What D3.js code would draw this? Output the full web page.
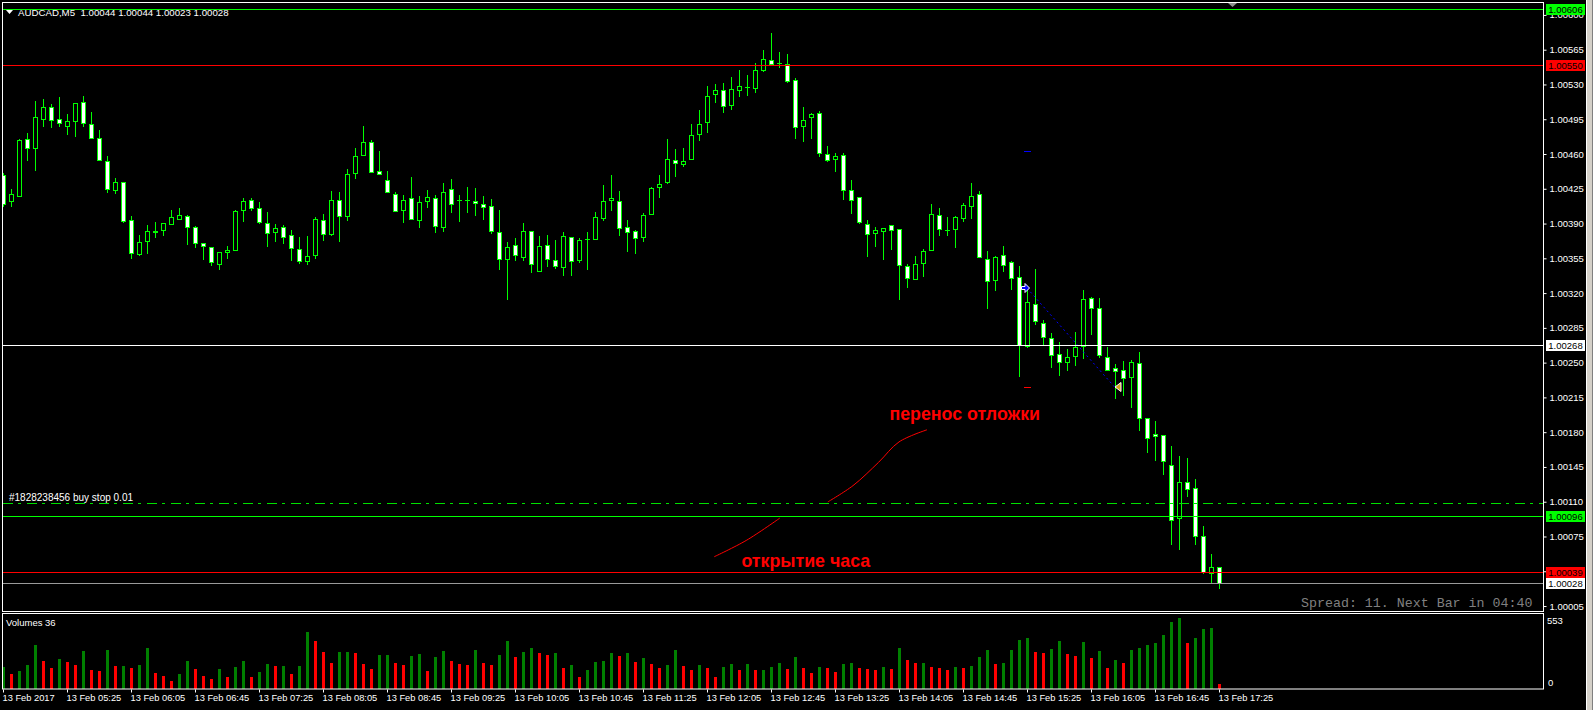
<!DOCTYPE html>
<html>
<head>
<meta charset="utf-8">
<script src="https://cdn.jsdelivr.net/npm/d3@7"></script>
<style>
  body { margin: 0; background: #000; overflow: hidden; }
  svg { display: block; }
  text { font-family: "Liberation Sans", Arial, sans-serif; }
</style>
</head>
<body>
<script>
// AUDCAD M5, 13 Feb 2017 04:45 .. 17:25 (153 bars)
const openP = [1.00439,1.00413,1.00418,1.00475,1.00466,1.00495,1.00507,1.00495,1.00488,1.00493,
  1.00512,1.00490,1.00476,1.00453,1.00424,1.00432,1.00394,1.00359,1.00372,1.00381,
  1.00384,1.00390,1.00395,1.00398,1.00387,1.00370,1.00366,1.00349,1.00361,1.00363,
  1.00404,1.00414,1.00406,1.00391,1.00381,1.00387,1.00378,1.00364,1.00352,1.00358,
  1.00394,1.00379,1.00414,1.00398,1.00441,1.00459,1.00472,1.00443,1.00434,1.00420,
  1.00404,1.00416,1.00394,1.00413,1.00416,1.00387,1.00425,1.00414,1.00414,1.00413,
  1.00410,1.00408,1.00381,1.00354,1.00368,1.00356,1.00382,1.00342,1.00368,1.00353,
  1.00346,1.00376,1.00353,1.00374,1.00374,1.00396,1.00414,1.00413,1.00387,1.00382,
  1.00376,1.00400,1.00427,1.00432,1.00454,1.00450,1.00455,1.00480,1.00492,1.00520,
  1.00524,1.00509,1.00524,1.00527,1.00526,1.00545,1.00555,1.00552,1.00551,1.00534,
  1.00488,1.00497,1.00501,1.00460,1.00455,1.00459,1.00424,1.00417,1.00390,1.00380,
  1.00383,1.00389,1.00385,1.00347,1.00334,1.00350,1.00363,1.00399,1.00384,1.00385,
  1.00396,1.00408,1.00420,1.00354,1.00333,1.00358,1.00351,1.00336,1.00267,1.00309,
  1.00290,1.00275,1.00259,1.00251,1.00257,1.00267,1.00315,1.00305,1.00256,1.00245,
  1.00243,1.00236,1.00250,1.00194,1.00178,1.00177,1.00147,1.00094,1.00130,1.00124,
  1.00075,1.00038,1.00044];

const highP = [1.00441,1.00425,1.00475,1.00481,1.00513,1.00515,1.00510,1.00517,1.00500,1.00511,
  1.00518,1.00502,1.00484,1.00458,1.00436,1.00432,1.00398,1.00378,1.00389,1.00392,
  1.00391,1.00404,1.00406,1.00399,1.00388,1.00370,1.00366,1.00361,1.00367,1.00404,
  1.00416,1.00416,1.00412,1.00402,1.00390,1.00389,1.00384,1.00376,1.00377,1.00397,
  1.00400,1.00423,1.00422,1.00445,1.00466,1.00488,1.00474,1.00463,1.00443,1.00422,
  1.00419,1.00437,1.00418,1.00424,1.00419,1.00431,1.00435,1.00419,1.00427,1.00426,
  1.00418,1.00415,1.00404,1.00371,1.00375,1.00391,1.00383,1.00377,1.00378,1.00373,
  1.00381,1.00376,1.00375,1.00381,1.00402,1.00429,1.00439,1.00423,1.00394,1.00384,
  1.00401,1.00427,1.00439,1.00475,1.00465,1.00466,1.00490,1.00504,1.00528,1.00530,
  1.00531,1.00538,1.00545,1.00540,1.00552,1.00565,1.00582,1.00563,1.00561,1.00537,
  1.00507,1.00501,1.00503,1.00468,1.00461,1.00461,1.00434,1.00417,1.00394,1.00387,
  1.00386,1.00389,1.00385,1.00349,1.00357,1.00364,1.00410,1.00406,1.00397,1.00398,
  1.00411,1.00431,1.00423,1.00362,1.00357,1.00367,1.00352,1.00347,1.00324,1.00344,
  1.00293,1.00280,1.00271,1.00264,1.00281,1.00323,1.00316,1.00315,1.00266,1.00249,
  1.00252,1.00253,1.00261,1.00194,1.00191,1.00177,1.00166,1.00156,1.00154,1.00133,
  1.00086,1.00057,1.00044];

const lowP = [1.00408,1.00408,1.00418,1.00454,1.00444,1.00488,1.00487,1.00488,1.00480,1.00478,
  1.00488,1.00476,1.00454,1.00422,1.00421,1.00392,1.00355,1.00358,1.00360,1.00376,
  1.00378,1.00390,1.00395,1.00369,1.00366,1.00354,1.00348,1.00344,1.00355,1.00363,
  1.00393,1.00404,1.00391,1.00367,1.00372,1.00370,1.00353,1.00350,1.00349,1.00355,
  1.00373,1.00378,1.00372,1.00394,1.00436,1.00459,1.00442,1.00440,1.00422,1.00403,
  1.00392,1.00395,1.00387,1.00407,1.00381,1.00383,1.00402,1.00393,1.00402,1.00399,
  1.00395,1.00380,1.00344,1.00314,1.00353,1.00353,1.00341,1.00342,1.00347,1.00345,
  1.00338,1.00338,1.00351,1.00344,1.00374,1.00394,1.00404,1.00378,1.00362,1.00360,
  1.00372,1.00400,1.00417,1.00431,1.00438,1.00448,1.00455,1.00474,1.00482,1.00512,
  1.00502,1.00505,1.00518,1.00519,1.00522,1.00544,1.00551,1.00548,1.00532,1.00476,
  1.00473,1.00476,1.00458,1.00453,1.00443,1.00415,1.00401,1.00391,1.00357,1.00367,
  1.00354,1.00364,1.00314,1.00326,1.00334,1.00337,1.00363,1.00378,1.00378,1.00366,
  1.00393,1.00396,1.00356,1.00305,1.00323,1.00342,1.00324,1.00237,1.00266,1.00289,
  1.00269,1.00246,1.00238,1.00243,1.00248,1.00255,1.00279,1.00256,1.00243,1.00214,
  1.00217,1.00205,1.00182,1.00160,1.00152,1.00138,1.00067,1.00062,1.00116,1.00067,
  1.00038,1.00028,1.00023];

const closeP = [1.00410,1.00420,1.00474,1.00466,1.00497,1.00507,1.00494,1.00491,1.00493,1.00511,
  1.00491,1.00476,1.00454,1.00425,1.00432,1.00393,1.00360,1.00371,1.00382,1.00383,
  1.00391,1.00397,1.00399,1.00387,1.00370,1.00367,1.00351,1.00361,1.00363,1.00403,
  1.00413,1.00406,1.00392,1.00380,1.00386,1.00376,1.00365,1.00352,1.00357,1.00395,
  1.00379,1.00414,1.00398,1.00440,1.00458,1.00472,1.00442,1.00440,1.00422,1.00403,
  1.00414,1.00395,1.00412,1.00417,1.00388,1.00422,1.00410,1.00414,1.00414,1.00411,
  1.00407,1.00383,1.00354,1.00366,1.00358,1.00383,1.00349,1.00367,1.00354,1.00347,
  1.00377,1.00352,1.00373,1.00374,1.00397,1.00413,1.00416,1.00386,1.00381,1.00375,
  1.00399,1.00426,1.00430,1.00455,1.00451,1.00453,1.00479,1.00490,1.00518,1.00524,
  1.00508,1.00525,1.00528,1.00527,1.00545,1.00556,1.00551,1.00552,1.00533,1.00487,
  1.00494,1.00500,1.00461,1.00454,1.00458,1.00424,1.00414,1.00392,1.00379,1.00384,
  1.00386,1.00384,1.00348,1.00335,1.00349,1.00362,1.00400,1.00385,1.00384,1.00397,
  1.00409,1.00418,1.00356,1.00332,1.00356,1.00348,1.00335,1.00268,1.00311,1.00292,
  1.00276,1.00258,1.00251,1.00256,1.00266,1.00314,1.00305,1.00258,1.00243,1.00242,
  1.00235,1.00251,1.00194,1.00174,1.00176,1.00151,1.00092,1.00130,1.00123,1.00075,
  1.00039,1.00044,1.00028];

const volumes = [169,113,137,184,342,216,161,232,208,184,
  295,145,137,303,176,179,161,184,319,121,
  105,66,113,216,153,105,74,153,90,169,
  216,97,129,192,176,179,113,176,445,374,
  287,200,287,290,279,192,153,263,266,200,
  184,255,271,137,248,295,216,192,184,303,
  200,184,263,374,248,287,319,279,263,279,
  161,184,90,145,208,216,279,255,279,208,
  240,192,161,184,303,176,145,184,161,97,
  169,192,145,192,145,148,169,200,153,248,
  161,121,169,161,129,192,200,161,158,145,
  169,153,319,224,200,203,169,166,145,169,
  161,176,248,303,192,200,303,382,398,287,
  284,311,374,271,255,366,240,295,161,224,
  200,303,319,342,358,421,524,553,358,398,
  469,477,36];

const timeLabels = ["13 Feb 2017","13 Feb 05:25","13 Feb 06:05","13 Feb 06:45","13 Feb 07:25",
  "13 Feb 08:05","13 Feb 08:45","13 Feb 09:25","13 Feb 10:05","13 Feb 10:45","13 Feb 11:25",
  "13 Feb 12:05","13 Feb 12:45","13 Feb 13:25","13 Feb 14:05","13 Feb 14:45","13 Feb 15:25",
  "13 Feb 16:05","13 Feb 16:45","13 Feb 17:25"];
const barsPerLabel = 8;

const priceTicks = [1.00005,1.00040,1.00075,1.00110,1.00145,1.00180,1.00215,1.00250,1.00285,
  1.00320,1.00355,1.00390,1.00425,1.00460,1.00495,1.00530,1.00565,1.00600];

// horizontal lines with their price-scale boxes
const lineLevels = [1.00606, 1.00550, 1.00268, 1.00096, 1.00039, 1.00028];
const lineColors = ["#00ff00", "#ff0000", "#ffffff", "#00ff00", "#ff0000", "#9a9a9a"];
const boxColors  = ["#00ff00", "#ff0000", "#ffffff", "#00ff00", "#ff0000", "#ffffff"];
const pendingLevel = 1.00109;

// closed trade: open arrow, close arrow, TP and SL marks
const trade = { openBar: 128, openPrice: 1.00325, closeBar: 139, closePrice: 1.00225, tp: 1.00463, sl: 1.00225 };

// hand drawn red line, in (bar, price)
const drawA = [[88.9, 1.000546], [92.9, 1.00071], [97.1, 1.000935]];
const drawB = [[103.1, 1.001098], [106.25, 1.001262], [109.45, 1.001497], [112, 1.001702], [115.5, 1.001824]];
const noteHour = { bar: 92.3, price: 1.00051, text: "открытие часа" };
const noteMove = { bar: 110.8, price: 1.00199, text: "перенос отложки" };

const W = 1593, H = 710;
const left = 3, right = 1543, mainTop = 3, mainBottom = 611, volTop = 614, volBottom = 689;
const sans = "'Liberation Sans', Arial, sans-serif";

const svg = d3.select("body").append("svg")
    .attr("width", W)
    .attr("height", H)
    .style("background", "#000");

const x = d3.scaleLinear().domain([0, openP.length - 1]).range([3, 3 + 8 * (openP.length - 1)]);
const y = d3.scaleLinear().domain([1.00000, 1.00612]).range([mainBottom, mainTop]);
const yv = d3.scaleLinear().domain([0, d3.max(volumes)]).range([volBottom, 618]);
const px = (i) => Math.round(x(i));
const py = (p) => Math.round(y(p));

const defs = svg.append("defs");
defs.append("clipPath").attr("id", "clipMain").append("rect")
    .attr("x", left).attr("y", mainTop).attr("width", right - left).attr("height", mainBottom - mainTop);
defs.append("clipPath").attr("id", "clipVol").append("rect")
    .attr("x", left).attr("y", volTop).attr("width", right - left).attr("height", volBottom - volTop);

// scrollbar on the far right
svg.append("rect").attr("x", 1586).attr("y", 0).attr("width", 7).attr("height", H).attr("fill", "#d4d0c8");
svg.append("line").attr("x1", 1586.5).attr("x2", 1586.5).attr("y1", 0).attr("y2", H).attr("stroke", "#ffffff");
svg.append("line").attr("x1", 1592.5).attr("x2", 1592.5).attr("y1", 0).attr("y2", H).attr("stroke", "#808080");

const main = svg.append("g").attr("clip-path", "url(#clipMain)");

// candles
const bars = d3.range(openP.length);
const candle = main.selectAll("g.candle")
    .data(bars)
    .enter()
    .append("g")
    .attr("class", "candle");

candle.append("line")
    .attr("x1", (i) => px(i) + 0.5)
    .attr("x2", (i) => px(i) + 0.5)
    .attr("y1", (i) => py(highP[i]))
    .attr("y2", (i) => py(lowP[i]) + 1)
    .attr("stroke", "#00ff00");

candle.each(function (i) {
    const g = d3.select(this);
    const top = py(Math.max(openP[i], closeP[i]));
    const bottom = py(Math.min(openP[i], closeP[i]));
    if (bottom - top < 1) {
        g.append("line")
            .attr("x1", px(i) - 2).attr("x2", px(i) + 3)
            .attr("y1", top + 0.5).attr("y2", top + 0.5)
            .attr("stroke", "#00ff00");
    } else {
        g.append("rect")
            .attr("x", px(i) - 1.5)
            .attr("y", top + 0.5)
            .attr("width", 4)
            .attr("height", bottom - top)
            .attr("fill", closeP[i] > openP[i] ? "#000000" : "#ffffff")
            .attr("stroke", "#00ff00");
    }
});

// hand drawn red line and notes
const line = d3.line().x((d) => x(d[0])).y((d) => y(d[1])).curve(d3.curveCatmullRom);
[drawA, drawB].forEach((pts) => {
    main.append("path").attr("d", line(pts)).attr("fill", "none").attr("stroke", "#ff0000").attr("stroke-width", 1);
});
[noteHour, noteMove].forEach((n) => {
    main.append("text")
        .attr("x", x(n.bar))
        .attr("y", y(n.price))
        .attr("dy", "0.35em")
        .attr("fill", "#ff0000")
        .attr("font-size", 17.8)
        .attr("font-weight", "bold")
        .text(n.text);
});

// trade marks
main.append("line")
    .attr("x1", x(trade.openBar)).attr("y1", y(trade.openPrice))
    .attr("x2", x(trade.closeBar)).attr("y2", y(trade.closePrice))
    .attr("stroke", "#0000ff").attr("stroke-dasharray", "2,3");
[[trade.tp, "#0000ff"], [trade.sl, "#ff0000"]].forEach(([p, c]) => {
    main.append("line")
        .attr("x1", px(trade.openBar) - 3).attr("x2", px(trade.openBar) + 4)
        .attr("y1", py(p) + 0.5).attr("y2", py(p) + 0.5)
        .attr("stroke", c);
});
main.append("path")
    .attr("transform", `translate(${px(trade.openBar) - 2},${py(trade.openPrice)})`)
    .attr("d", "M-3.5,-1.5 L0,-1.5 L0,-4.5 L4.5,0 L0,4.5 L0,1.5 L-3.5,1.5 Z")
    .attr("fill", "#0000ff").attr("stroke", "#ffffff");
main.append("path")
    .attr("transform", `translate(${px(trade.closeBar) + 3},${py(trade.closePrice)})`)
    .attr("d", "M3,-4.5 L3,4.5 L-3,0 Z")
    .attr("fill", "#daa520").attr("stroke", "#ffffff");

// pending order line and label
main.append("line")
    .attr("x1", left).attr("x2", right)
    .attr("y1", py(pendingLevel) + 0.5).attr("y2", py(pendingLevel) + 0.5)
    .attr("stroke", "#00e000").attr("stroke-dasharray", "10,5,3,6");
main.append("text")
    .attr("x", 9).attr("y", py(pendingLevel) - 2)
    .attr("fill", "#ffffff").attr("font-size", 10)
    .text("#1828238456 buy stop 0.01");

// horizontal lines
main.selectAll("line.level")
    .data(lineLevels)
    .enter()
    .append("line")
    .attr("class", "level")
    .attr("x1", left).attr("x2", right)
    .attr("y1", (d) => py(d) + 0.5).attr("y2", (d) => py(d) + 0.5)
    .attr("stroke", (d, i) => lineColors[i]);

// spread info
main.append("text")
    .attr("x", 1301).attr("y", 607)
    .attr("fill", "#808080")
    .style("font-family", "'Liberation Mono', 'DejaVu Sans Mono', monospace")
    .attr("font-size", 13.3)
    .text("Spread: 11. Next Bar in 04:40");

// title
svg.append("path").attr("d", "M6,10 L13,10 L9.5,14 Z").attr("fill", "#ffffff");
svg.append("text")
    .attr("x", 18).attr("y", 16)
    .attr("fill", "#ffffff").attr("font-size", 9.7)
    .style("white-space", "pre")
    .text("AUDCAD,M5  1.00044 1.00044 1.00023 1.00028");
svg.append("line")
    .attr("x1", left).attr("x2", right)
    .attr("y1", py(lineLevels[0]) + 0.5).attr("y2", py(lineLevels[0]) + 0.5)
    .attr("stroke", lineColors[0]);
svg.append("path").attr("d", "M1228,3 L1237,3 L1232.5,7 Z").attr("fill", "#909090");

// volumes
const vol = svg.append("g").attr("clip-path", "url(#clipVol)");
vol.selectAll("rect")
    .data(volumes)
    .enter()
    .append("rect")
    .attr("x", (d, i) => px(i) - 1)
    .attr("y", (d) => Math.round(yv(d)))
    .attr("width", 3)
    .attr("height", (d) => volBottom - Math.round(yv(d)))
    .attr("fill", (d, i) => (i === 0 || d > volumes[i - 1]) ? "#008000" : "#ff0000");

svg.append("text")
    .attr("x", 6).attr("y", 626)
    .attr("fill", "#ffffff").attr("font-size", 9.5)
    .text("Volumes " + volumes[volumes.length - 1]);

// frames
svg.append("rect").attr("x", 2.5).attr("y", 2.5).attr("width", right - 2).attr("height", mainBottom - 2)
    .attr("fill", "none").attr("stroke", "#ffffff");
svg.append("rect").attr("x", 2.5).attr("y", volTop - 0.5).attr("width", right - 2).attr("height", volBottom - volTop + 0.5)
    .attr("fill", "none").attr("stroke", "#ffffff");

// price axis
const yAxis = svg.append("g")
    .attr("transform", `translate(${right + 0.5},0)`)
    .call(d3.axisRight(y).tickValues(priceTicks).tickFormat(d3.format(".5f")).tickSize(3).tickPadding(3));
yAxis.select(".domain").remove();
yAxis.selectAll("line").attr("stroke", "#ffffff");
yAxis.selectAll("text").attr("fill", "#ffffff").style("font-size", "9.5px").style("font-family", sans);

// boxes on the price axis
const boxes = svg.selectAll("g.box")
    .data(lineLevels)
    .enter()
    .append("g")
    .attr("class", "box");
boxes.append("rect")
    .attr("x", 1546).attr("y", (d) => py(d) - 5)
    .attr("width", 39).attr("height", 11)
    .attr("fill", (d, i) => boxColors[i]);
boxes.append("text")
    .attr("x", 1565.5).attr("y", (d) => py(d) + 4)
    .attr("text-anchor", "middle")
    .attr("fill", "#000000").attr("font-size", 9.5)
    .text((d) => d3.format(".5f")(d));

// volume scale
svg.append("text").attr("x", 1547).attr("y", 624).attr("fill", "#ffffff").attr("font-size", 9.5).text(d3.max(volumes));
svg.append("text").attr("x", 1548).attr("y", 686).attr("fill", "#ffffff").attr("font-size", 9.5).text("0");

// time axis
const xAxis = svg.append("g")
    .attr("transform", `translate(0,${volBottom + 0.5})`)
    .call(d3.axisBottom(x)
        .tickValues(timeLabels.map((t, k) => k * barsPerLabel))
        .tickFormat((d, k) => timeLabels[k])
        .tickSize(3).tickPadding(2));
xAxis.select(".domain").remove();
xAxis.selectAll("line").attr("stroke", "#ffffff");
xAxis.selectAll("text")
    .attr("fill", "#ffffff")
    .attr("text-anchor", "start").attr("dx", -1)
    .style("font-size", "9.3px").style("font-family", sans);
</script>
</body>
</html>
